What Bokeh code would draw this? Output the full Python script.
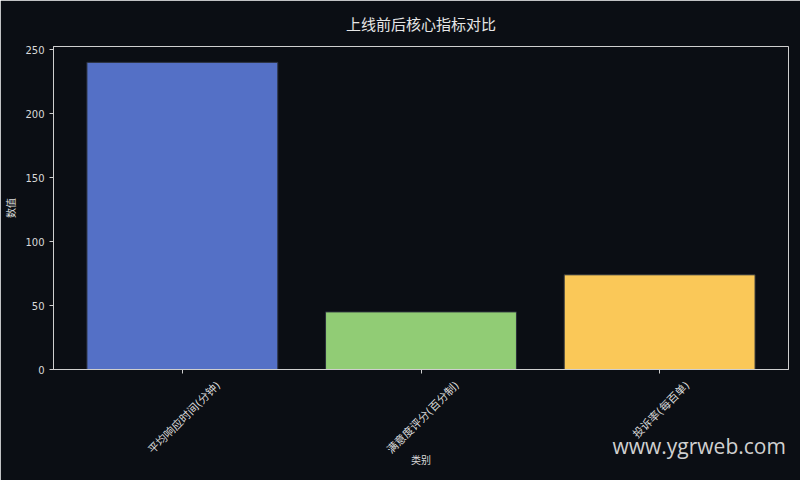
from math import pi
from bokeh.plotting import figure
from bokeh.models import Range1d, FixedTicker, Label, LinearAxis
from bokeh.embed import file_html
from bokeh.resources import INLINE

categories = ["平均响应时间(分钟)", "满意度评分(百分制)", "投诉率(每百单)"]
values = [240, 45, 74]
colors = ["#5470c6", "#91cc75", "#fac858"]
y_ticks = [0, 50, 100, 150, 200, 250]
watermark = "www.ygrweb.com"

bg = "#0b0e14"
fg = "#d9d9d9"
line = "#cfcfcf"
font = "DejaVu Sans, Noto Sans CJK SC"

xs = list(range(len(categories)))

p = figure(width=800, height=480, output_backend="svg", toolbar_location=None,
           x_range=Range1d(-0.54, 2.54), y_range=Range1d(0, 252.4),
           min_border_left=53, min_border_right=12, min_border_top=46,
           min_border_bottom=111, title="上线前后核心指标对比")
p.background_fill_color = bg
p.border_fill_color = bg
p.outline_line_color = line
p.grid.visible = False
p.title.align = "center"
p.title.standoff = 25
p.title.text_color = "#e6e6e6"
p.title.text_font = font
p.title.text_font_size = "15px"
p.title.text_font_style = "normal"

p.vbar(x=xs, top=values, width=0.8, bottom=0, fill_color=colors,
       line_color="#2a2f3a", line_width=1)

# y axis
p.yaxis.ticker = FixedTicker(ticks=y_ticks)
p.yaxis.axis_label = "数值"

# x axis 1: line and tick marks only
p.xaxis.ticker = FixedTicker(ticks=xs)
p.xaxis.major_label_overrides = {i: "" for i in xs}
p.xaxis.major_label_standoff = 0

for ax in (p.xaxis, p.yaxis):
    ax.axis_line_color = line
    ax.major_tick_line_color = line
    ax.minor_tick_line_color = None
    ax.major_tick_out = 4
    ax.major_tick_in = 0
    ax.major_label_text_color = fg
    ax.major_label_text_font = font
    ax.major_label_text_font_size = "10px"
    ax.axis_label_text_color = fg
    ax.axis_label_text_font = font
    ax.axis_label_text_font_size = "10px"
    ax.axis_label_text_font_style = "normal"


# x axis 2: rotated category names, centred on the ticks of axis 1
def text_width(s):
    return sum(11 if ord(ch) > 255 else 5 for ch in s)


px_per_unit = 239.0
shifted = [round(x + 0.37 * text_width(c) / px_per_unit, 3) for x, c in zip(xs, categories)]

# watermark sits right of centre: pad it on the left with no-break spaces
wm_text = "\u00a0" * 102 + watermark

ax2 = LinearAxis(ticker=FixedTicker(ticks=shifted),
                 major_label_overrides={t: c for t, c in zip(shifted, categories)},
                 major_label_orientation=pi / 4, major_label_standoff=10,
                 axis_line_color=None, major_tick_line_color=None,
                 minor_tick_line_color=None, major_tick_out=0, major_tick_in=0,
                 major_label_text_color=fg, major_label_text_font=font,
                 major_label_text_font_size="11px",
                 axis_label=wm_text, axis_label_standoff=-32,
                 axis_label_text_color="#d0d0d0",
                 axis_label_text_font="Open Sans", axis_label_text_font_size="21px",
                 axis_label_text_font_style="normal")
p.add_layout(ax2, "below")

p.add_layout(Label(x=1, y=13, x_units="data", y_units="screen", text="类别",
                   text_align="center", text_baseline="middle",
                   text_color=fg, text_font=font, text_font_size="10px"), "below")

open("out.html", "w").write(file_html(p, INLINE))
